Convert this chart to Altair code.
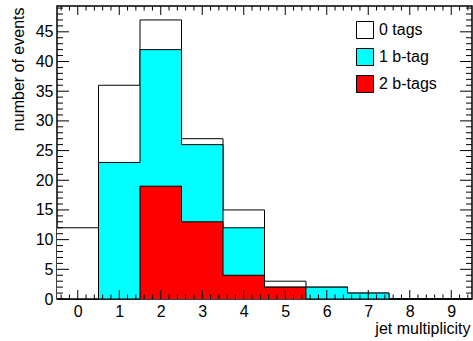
import altair as alt
import pandas as pd

# ---- data ----
bins = [0, 1, 2, 3, 4, 5, 6, 7, 8, 9]
tags0 = [12, 36, 47, 27, 15, 3, 2, 1, 0, 0]
btag1 = [0, 23, 42, 26, 12, 2, 2, 1, 0, 0]
btag2 = [0, 0, 19, 13, 4, 2, 0, 0, 0, 0]
series_names = ["0 tags", "1 b-tag", "2 b-tags"]
series_colors = ["white", "#00ffff", "#ff0000"]
x_tick_labels = [0, 1, 2, 3, 4, 5, 6, 7, 8, 9]
y_tick_labels = [0, 5, 10, 15, 20, 25, 30, 35, 40, 45]

X_MIN, X_MAX = -0.5, 9.5
Y_MAX = 47 * 1.05

W, H = 415, 293
FONT = "Liberation Sans"

# step-histogram table: one point per bin low edge plus the final upper edge
rows = []
for name, vals in zip(series_names, [tags0, btag1, btag2]):
    for b, v in zip(bins, vals):
        rows.append({"series": name, "x": b - 0.5, "y": v})
    rows.append({"series": name, "x": bins[-1] + 0.5, "y": vals[-1]})
hist = pd.DataFrame(rows)

# tick positions (axis decoration)
x_major = pd.DataFrame({"x": x_tick_labels})
x_minor = pd.DataFrame({"x": [round(i * 0.2 - 0.4, 2) for i in range(50) if (i - 2) % 5 != 0]})
y_major = pd.DataFrame({"y": list(range(0, 50, 5))})
y_minor = pd.DataFrame({"y": [i for i in range(1, 50) if i % 5 != 0]})

xs = alt.Scale(domain=[X_MIN, X_MAX], nice=False, zero=False)
ys = alt.Scale(domain=[0, Y_MAX], nice=False, zero=True)

xaxis = alt.Axis(values=x_tick_labels, title="jet multiplicity", ticks=False, domain=False,
                 grid=False, labelFontSize=16, labelFont=FONT, labelColor="black",
                 labelPadding=4, titleFont=FONT, titleFontSize=16, titleFontWeight="normal",
                 titleColor="black", titleAlign="right", titleBaseline="alphabetic",
                 titleX=413, titleY=34, tickSize=0)
yaxis = alt.Axis(values=y_tick_labels, title="number of events", ticks=False, domain=False,
                 grid=False, labelFontSize=16, labelFont=FONT, labelColor="black",
                 labelPadding=4, titleFont=FONT, titleFontSize=16, titleFontWeight="normal",
                 titleColor="black", titleAngle=270, titleAlign="right",
                 titleBaseline="alphabetic", titleX=-34, titleY=1, tickSize=0)

color = alt.Color("series:N", scale=alt.Scale(domain=series_names, range=series_colors),
                  legend=alt.Legend(title=None, orient="none", legendX=299, legendY=15,
                                    symbolType="square", symbolSize=289,
                                    symbolStrokeColor="black", symbolStrokeWidth=1,
                                    labelFont=FONT, labelFontSize=16, labelColor="black",
                                    rowPadding=5, labelOffset=5, padding=0))

layers = []
for name in series_names:
    base = alt.Chart(hist).transform_filter(alt.datum.series == name)
    area = base.mark_area(interpolate="step-after").encode(
        x=alt.X("x:Q", scale=xs, axis=xaxis),
        y=alt.Y("y:Q", scale=ys, axis=yaxis),
        color=color,
    )
    line = base.mark_line(interpolate="step-after", color="black", strokeWidth=1).encode(
        x=alt.X("x:Q", scale=xs, axis=xaxis),
        y=alt.Y("y:Q", scale=ys, axis=yaxis),
    )
    layers += [area, line]

def xticks(df, length):
    bottom = alt.Chart(df).mark_rule(color="black", strokeWidth=1).encode(
        x=alt.X("x:Q", scale=xs, axis=xaxis), y=alt.value(H), y2=alt.value(H - length))
    top = alt.Chart(df).mark_rule(color="black", strokeWidth=1).encode(
        x=alt.X("x:Q", scale=xs, axis=xaxis), y=alt.value(0), y2=alt.value(length))
    return [bottom, top]

def yticks(df, length):
    left = alt.Chart(df).mark_rule(color="black", strokeWidth=1).encode(
        y=alt.Y("y:Q", scale=ys, axis=yaxis), x=alt.value(0), x2=alt.value(length))
    right = alt.Chart(df).mark_rule(color="black", strokeWidth=1).encode(
        y=alt.Y("y:Q", scale=ys, axis=yaxis), x=alt.value(W), x2=alt.value(W - length))
    return [left, right]

layers += xticks(x_major, 9) + xticks(x_minor, 4.5) + yticks(y_major, 12) + yticks(y_minor, 6)

chart = alt.layer(*layers).properties(
    width=W, height=H,
    autosize=alt.AutoSizeParams(type="none"),
    padding={"left": 57, "top": 6, "right": 1, "bottom": 42},
    background="white",
).configure_view(stroke="black", strokeWidth=1.5)

chart.save("out.html", embed_options={"renderer": "svg", "actions": False})
